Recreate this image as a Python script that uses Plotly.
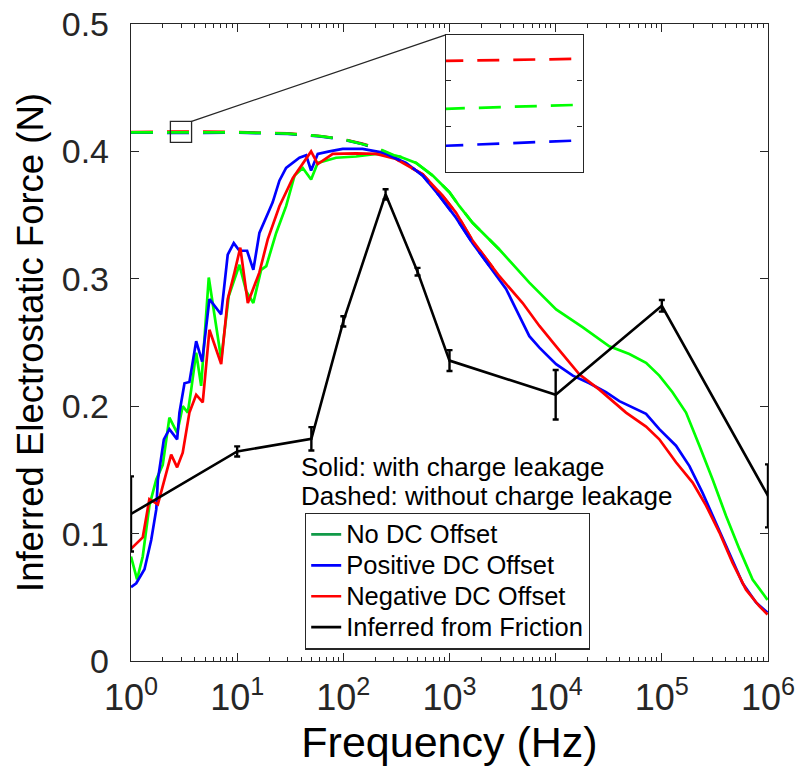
import numpy as np
import plotly.graph_objects as go

# ---------------- data ----------------
blue_f = [1.0, 1.12, 1.34, 1.55, 1.73, 1.79, 2.04, 2.30, 2.72, 2.86, 3.19, 3.55, 4.11, 4.68, 5.48,
          7.07, 8.15, 9.29, 10.5, 12.4, 14.2, 16.2, 20.1, 21.6, 25.0, 28.9, 38.6, 44.6, 49.7, 57.4,
          74.0, 98.7, 152, 235, 390, 560, 804, 1150, 1650, 2380, 3410, 4240, 5650, 7030, 10100,
          14500, 20800, 29800, 39800, 71000, 94700, 136000, 182000, 242000, 324000, 432000,
          577000, 771000, 990000]
blue_y = [0.058, 0.061, 0.072, 0.095, 0.119, 0.142, 0.174, 0.182, 0.174, 0.195, 0.218, 0.219, 0.251,
          0.235, 0.284, 0.272, 0.319, 0.328, 0.322, 0.322, 0.307, 0.336, 0.354, 0.360, 0.377, 0.387,
          0.395, 0.397, 0.385, 0.398, 0.400, 0.402, 0.402, 0.399, 0.391, 0.381, 0.365, 0.348, 0.328,
          0.310, 0.292, 0.276, 0.255, 0.246, 0.233, 0.224, 0.218, 0.211, 0.204, 0.194, 0.182, 0.169,
          0.153, 0.132, 0.108, 0.085, 0.061, 0.046, 0.038]

red_f = [1.0, 1.29, 1.49, 1.79, 2.07, 2.39, 2.72, 3.07, 3.55, 4.11, 4.74, 5.48, 7.07, 8.15, 9.44,
         10.7, 12.6, 16.2, 19.4, 25.0, 33.4, 38.6, 44.6, 49.7, 57.4, 79.5, 132, 204, 314, 560, 863,
         1150, 1650, 2950, 4890, 7030, 10100, 16700, 25800, 46000, 71000, 94700, 136000, 195000,
         261000, 348000, 464000, 621000, 828000, 990000]
red_y = [0.088, 0.097, 0.127, 0.123, 0.1425, 0.162, 0.152, 0.1635, 0.195, 0.209, 0.203, 0.260, 0.233,
         0.284, 0.305, 0.3245, 0.281, 0.305, 0.331, 0.357, 0.379, 0.387, 0.394, 0.400, 0.390, 0.398,
         0.3985, 0.398, 0.394, 0.382, 0.365, 0.352, 0.330, 0.302, 0.281, 0.263, 0.247, 0.225, 0.213,
         0.195, 0.184, 0.174, 0.156, 0.140, 0.122, 0.101, 0.077, 0.056, 0.043, 0.0365]

green_f = [1.0, 1.14, 1.29, 1.49, 1.73, 1.99, 2.30, 2.72, 3.07, 3.43, 3.69, 4.11, 4.58, 5.40, 7.07,
           8.33, 10.5, 12.2, 14.2, 16.8, 18.8, 23.3, 28.9, 34.7, 41.5, 49.7, 57.4, 85.5, 132, 204,
           338, 485, 695, 998, 1240, 1650, 2950, 5650, 10100, 17900, 32000, 49400, 71000, 94700,
           126000, 169000, 226000, 301000, 402000, 537000, 716000, 990000]
green_y = [0.082, 0.064, 0.082, 0.122, 0.1425, 0.154, 0.191, 0.179, 0.200, 0.195, 0.213, 0.242, 0.216,
           0.301, 0.237, 0.2865, 0.311, 0.290, 0.281, 0.307, 0.310, 0.336, 0.357, 0.381, 0.387, 0.378,
           0.391, 0.395, 0.396, 0.398, 0.396, 0.391, 0.381, 0.368, 0.357, 0.344, 0.323, 0.297, 0.276,
           0.262, 0.247, 0.241, 0.234, 0.224, 0.211, 0.195, 0.169, 0.1425, 0.114, 0.088, 0.064, 0.048]

# dashed (without charge leakage) low-frequency part; merges into the solid curves above ~300 Hz
dash_f = [1.0, 2.35, 3.72, 10, 30, 60, 100, 150, 200, 300]
dash_red = [0.4152, 0.41562, 0.41565, 0.4151, 0.4141, 0.4121, 0.4096, 0.4061, 0.4030, 0.3965]
dash_green = [0.4150, 0.41492, 0.41498, 0.4149, 0.4140, 0.4120, 0.4095, 0.4060, 0.4032, 0.3970]
dash_blue = [0.4148, 0.41438, 0.41446, 0.4147, 0.4138, 0.4118, 0.4093, 0.4058, 0.4025, 0.3950]

black_f = [1, 10, 50, 100, 250, 500, 1000, 1e4, 1e5, 1e6]
black_y = [0.1154, 0.1645, 0.1744, 0.2666, 0.3663, 0.3056, 0.2358, 0.209, 0.2788, 0.1296]
black_err = [0.0295, 0.004, 0.0092, 0.004, 0.004, 0.003, 0.0082, 0.0194, 0.0046, 0.0247]

legend_names = ["No DC Offset", "Positive DC Offset", "Negative DC Offset", "Inferred from Friction"]
x_tick_exp = [0, 1, 2, 3, 4, 5, 6]
y_ticks = [0, 0.1, 0.2, 0.3, 0.4, 0.5]

inset_f = [2.35, 3.72]          # zoomed frequency window
inset_y = [0.4140, 0.4160]      # inset vertical range
marker_y = [0.4071, 0.4236]     # extent of the small marker box

GREEN, BLUE, RED, BLACK = "#00FF00", "#0000FF", "#FF0000", "#000000"
LEG_GREEN = "#119a48"
AX = "#262626"
FONT = "Liberation Sans, Arial, sans-serif"


def extend(df, dy, sf, sy):
    sf = np.asarray(sf); sy = np.asarray(sy)
    m = sf > df[-1]
    return list(df) + list(sf[m]), list(dy) + list(sy[m])


fig = go.Figure()
LW = 2.7
for f, y, c in [(green_f, green_y, GREEN), (blue_f, blue_y, BLUE), (red_f, red_y, RED)]:
    fig.add_trace(go.Scatter(x=f, y=y, mode="lines", line=dict(color=c, width=LW), showlegend=False))

DASH = "22px,14px"
for dy, sf, sy, c in [(dash_red, red_f, red_y, RED), (dash_blue, blue_f, blue_y, BLUE),
                      (dash_green, green_f, green_y, GREEN)]:
    xf, yy = extend(dash_f, dy, sf, sy)
    xf = [v for v in xf if v <= 3000]
    yy = yy[:len(xf)]
    fig.add_trace(go.Scatter(x=xf, y=yy, mode="lines", line=dict(color=c, width=LW, dash=DASH),
                             showlegend=False))

fig.add_trace(go.Scatter(x=black_f, y=black_y, mode="lines", line=dict(color=BLACK, width=2.6),
                         error_y=dict(type="data", array=black_err, color=BLACK, thickness=2.4, width=3),
                         showlegend=False, cliponaxis=False))

# inset
for dy, c in [(dash_red, RED), (dash_green, GREEN), (dash_blue, BLUE)]:
    fig.add_trace(go.Scatter(x=dash_f, y=dy, mode="lines", line=dict(color=c, width=LW, dash=DASH),
                             xaxis="x2", yaxis="y2", showlegend=False))

# legend entries
for name, c in zip(legend_names, [LEG_GREEN, BLUE, RED, BLACK]):
    fig.add_trace(go.Scatter(x=[None], y=[None], mode="lines",
                             name='<span style="font-size:25.5px">%s</span>' % name,
                             line=dict(color=c, width=LW)))

X_DOM = [0.494, 0.709]
Y_DOM = [0.768, 0.983]

minor_vals = [k * 10 ** n for n in range(6) for k in range(2, 10)]

fig.update_layout(
    width=808, height=771,
    margin=dict(l=131, r=40, t=24, b=110),
    paper_bgcolor="white", plot_bgcolor="white",
    font=dict(family=FONT, color="#000000"),
    xaxis=dict(type="log", range=[0, 6], domain=[0, 1], automargin=False,
               tickvals=[10 ** e for e in x_tick_exp],
               ticktext=["10<sup>%d</sup>" % e for e in x_tick_exp],
               ticks="inside", ticklen=8, tickwidth=1.2, tickcolor=AX,
               minor=dict(tickvals=minor_vals, ticks="inside", ticklen=4, tickwidth=1.1, tickcolor=AX),
               showline=True, linecolor=AX, linewidth=1.4, mirror="ticks",
               showgrid=False, zeroline=False,
               tickfont=dict(size=36, color="#262626"), ticklabelstandoff=5,
               title=dict(text="Frequency (Hz)", font=dict(size=43, color="#000000"), standoff=0)),
    yaxis=dict(range=[0, 0.5], tickvals=y_ticks, ticktext=[("%g" % v) for v in y_ticks], automargin=False,
               ticks="inside", ticklen=8, tickwidth=1.2, tickcolor=AX,
               showline=True, linecolor=AX, linewidth=1.4, mirror="ticks",
               showgrid=False, zeroline=False,
               tickfont=dict(size=34, color="#262626"), ticklabelstandoff=14,
               title=dict(text="Inferred Electrostatic Force (N)", font=dict(size=36.5, color="#000000"),
                          standoff=6)),
    xaxis2=dict(type="log", domain=X_DOM, anchor="y2", range=[np.log10(inset_f[0]), np.log10(inset_f[1])],
                showticklabels=False, ticks="", showline=True, linecolor=AX, linewidth=1.4, mirror=True,
                showgrid=False, zeroline=False),
    yaxis2=dict(domain=Y_DOM, anchor="x2", range=inset_y,
                tickvals=[inset_y[0] + (inset_y[1] - inset_y[0]) / 3, inset_y[0] + 2 * (inset_y[1] - inset_y[0]) / 3],
                showticklabels=False, ticks="inside", ticklen=5, tickcolor=AX,
                showline=True, linecolor=AX, linewidth=1.4, mirror="ticks",
                showgrid=False, zeroline=False),
    legend=dict(x=0.273, y=0.233, xanchor="left", yanchor="top", bgcolor="white",
                bordercolor=AX, borderwidth=1.3, font=dict(size=21.5, color="#000000"),
                tracegroupgap=0),
    showlegend=True,
)

# marker box and connector (paper coordinates derived from the axis ranges)
px0 = np.log10(inset_f[0]) / 6
px1 = np.log10(inset_f[1]) / 6
py0 = marker_y[0] / 0.5
py1 = marker_y[1] / 0.5
fig.add_shape(type="rect", xref="paper", yref="paper", x0=px0, x1=px1, y0=py0, y1=py1,
              line=dict(color=AX, width=1.3))
fig.add_shape(type="line", xref="paper", yref="paper", x0=px1, y0=py1, x1=X_DOM[0], y1=Y_DOM[1],
              line=dict(color=AX, width=1.3))

fig.add_annotation(xref="paper", yref="paper", x=0.264, y=0.305, xanchor="left", yanchor="middle",
                   text="Solid: with charge leakage", showarrow=False, font=dict(size=26, color="#000000"))
fig.add_annotation(xref="paper", yref="paper", x=0.264, y=0.259, xanchor="left", yanchor="middle",
                   text="Dashed: without charge leakage", showarrow=False, font=dict(size=26, color="#000000"))

fig.write_html("out.html")
